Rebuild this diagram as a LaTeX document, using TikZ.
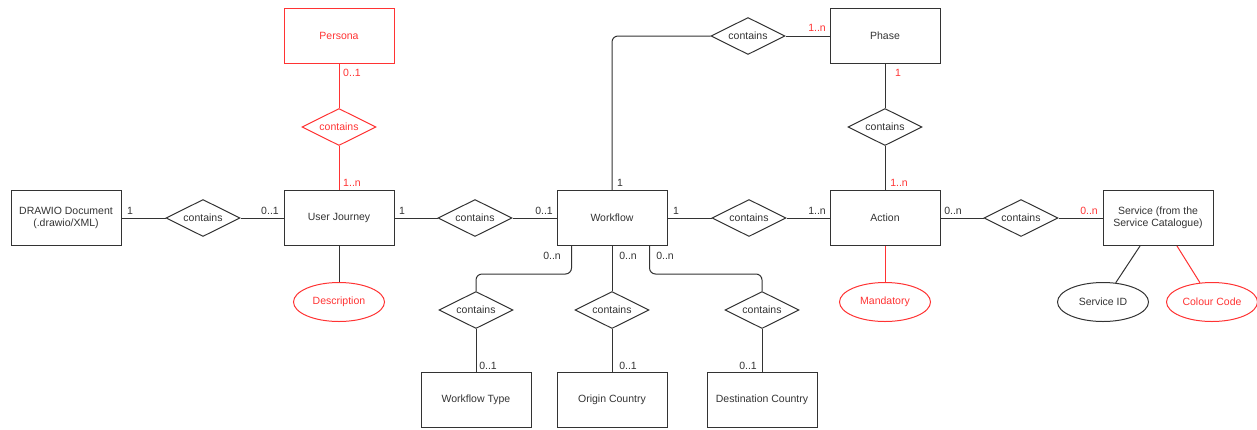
\documentclass[tikz,border=0pt]{standalone}
\usepackage{fontspec}
\setmainfont{Liberation Sans}
\usetikzlibrary{shapes.geometric}
\definecolor{ink}{HTML}{333333}
\definecolor{erred}{HTML}{FF3333}
\begin{document}
\begin{tikzpicture}[x=1pt,y=-1pt,
  font=\fontsize{10.5}{12.5}\selectfont,
  entity/.style={draw=ink, text=ink, line width=1pt, minimum width=110pt, minimum height=55pt, inner sep=2pt, align=center},
  rel/.style={draw=ink, text=ink, diamond, aspect=2, inner sep=0pt, minimum width=74pt, minimum height=37pt, line width=1pt},
  attr/.style={draw=ink, text=ink, ellipse, inner sep=0pt, minimum width=91pt, minimum height=39pt, line width=1pt},
  link/.style={draw=ink, line width=1pt},
  card/.style={text=ink, inner sep=0pt},
  hl/.style={draw=erred, text=erred}]
\useasboundingbox (0,0) rectangle (1257,429);

% entities
\node[entity] (doc) at (66,218) {DRAWIO Document\\(.drawio/XML)};
\node[entity] (uj)  at (339,218) {User Journey};
\node[entity,hl] (per) at (339,36) {Persona};
\node[entity] (wf)  at (612,218) {Workflow};
\node[entity] (ph)  at (885,36) {Phase};
\node[entity] (act) at (885,218) {Action};
\node[entity] (svc) at (1158,218) {Service (from the\\Service Catalogue)};
\node[entity] (wt)  at (476,400) {Workflow Type};
\node[entity] (oc)  at (612,400) {Origin Country};
\node[entity] (dc)  at (762,400) {Destination Country};

% relationships
\node[rel] (r1) at (203,218) {contains};
\node[rel,hl] (rp) at (339,127) {contains};
\node[rel] (r2) at (475,218) {contains};
\node[rel] (rt) at (748,36) {contains};
\node[rel] (rpa) at (885,127) {contains};
\node[rel] (r3) at (749,218) {contains};
\node[rel] (r4) at (1021,218) {contains};
\node[rel] (rwt) at (476,310) {contains};
\node[rel] (roc) at (612,310) {contains};
\node[rel] (rdc) at (762,310) {contains};

% attributes
\node[attr,hl] (desc) at (339,302) {Description};
\node[attr,hl] (mand) at (885,302) {Mandatory};
\node[attr] (sid) at (1103,302) {Service ID};
\node[attr,hl] (col) at (1212,302) {Colour Code};

% connectors
\draw[link] (doc) -- (r1) -- (uj);
\draw[link] (uj) -- (r2) -- (wf);
\draw[link] (wf) -- (r3) -- (act);
\draw[link] (act) -- (r4) -- (svc);
\draw[link,draw=erred] (per) -- (rp) -- (uj);
\draw[link] (ph) -- (rpa) -- (act);
\draw[link] (rt) -- (ph);
\draw[link,rounded corners=6pt] (wf.north) |- (rt.west);
\draw[link] (uj) -- (desc);
\draw[link,draw=erred] (act) -- (mand);
\draw[link] ([xshift=-18pt]svc.south) -- (sid);
\draw[link,draw=erred] ([xshift=19pt]svc.south) -- (col);

\coordinate (wfl) at ([xshift=15pt]wf.south west);
\coordinate (wfr) at ([xshift=-18pt]wf.south east);
\draw[link,rounded corners=6pt] (wfl) -- ++(0,28) -| (rwt.north);
\draw[link] (wf.south) -- (roc.north);
\draw[link,rounded corners=6pt] (wfr) -- ++(0,28) -| (rdc.north);
\draw[link] (rwt) -- (wt);
\draw[link] (roc) -- (oc);
\draw[link] (rdc) -- (dc);

% cardinalities
\node[card] (c1) at (130,211) {1};
\node[card] (c2) at (270,211) {0..1};
\node[card] (c3) at (402,211) {1};
\node[card] (c4) at (544,211) {0..1};
\node[card] (c5) at (676,211) {1};
\node[card] (c6) at (620,183) {1};
\node[card] (c7) at (817,211) {1..n};
\node[card] (c8) at (953,211) {0..n};
\node[card,text=erred] (c9) at (1089,211) {0..n};
\node[card,text=erred] (c10) at (817,28) {1..n};
\node[card,text=erred] (c11) at (898,73) {1};
\node[card,text=erred] (c12) at (899,183) {1..n};
\node[card,text=erred] (c13) at (352,73) {0..1};
\node[card,text=erred] (c14) at (352,183) {1..n};
\node[card] (c15) at (552,256) {0..n};
\node[card] (c16) at (628,256) {0..n};
\node[card] (c17) at (665,256) {0..n};
\node[card] (c18) at (488,366) {0..1};
\node[card] (c19) at (628,366) {0..1};
\node[card] (c20) at (748,366) {0..1};
\end{tikzpicture}
\end{document}
